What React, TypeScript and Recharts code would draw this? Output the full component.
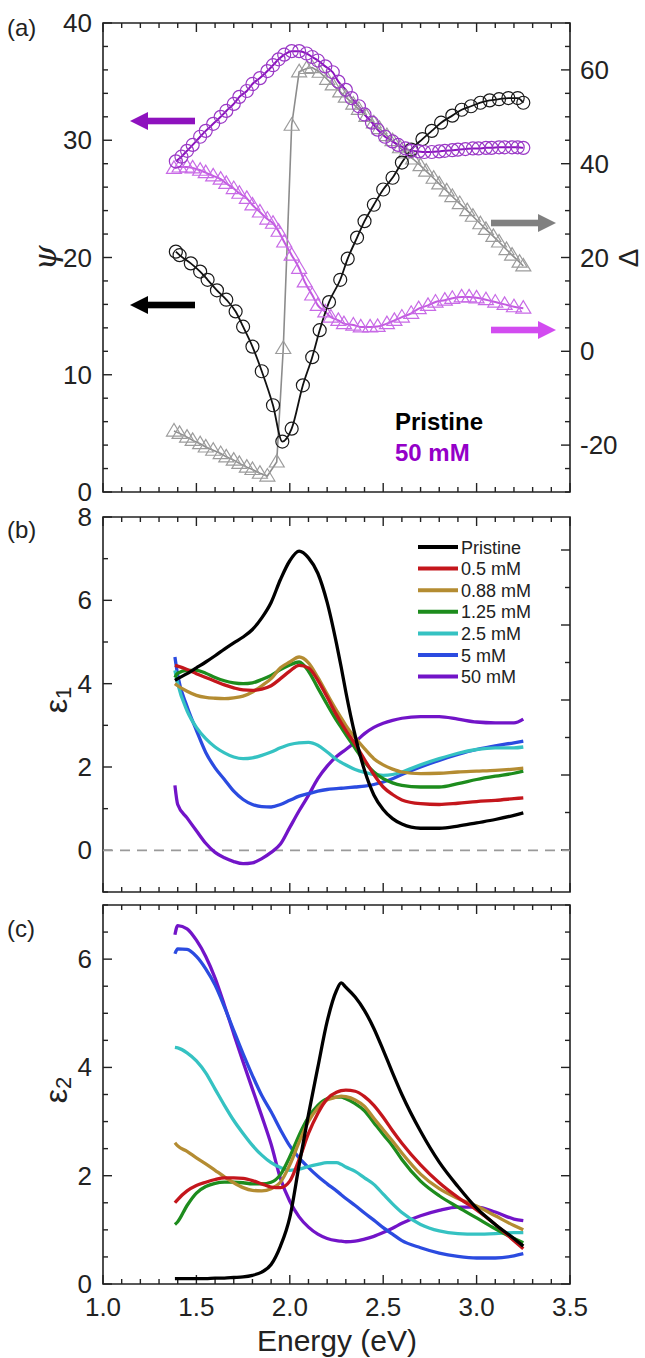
import { LineChart, Line, XAxis, YAxis, ReferenceLine, ReferenceArea } from 'recharts'

const FONT = 'Arial, "Liberation Sans", Helvetica, sans-serif'
const INK = '#222'

// tick positions
const X_TICKS = [1.0, 1.1, 1.2, 1.3, 1.4, 1.5, 1.6, 1.7, 1.8, 1.9, 2.0, 2.1, 2.2, 2.3, 2.4, 2.5, 2.6, 2.7, 2.8, 2.9, 3.0, 3.1, 3.2, 3.3, 3.4, 3.5]
const PSI_TICKS = [0, 2, 4, 6, 8, 10, 12, 14, 16, 18, 20, 22, 24, 26, 28, 30, 32, 34, 36, 38, 40]
const DELTA_TICKS = [-30, -25, -20, -15, -10, -5, 0, 5, 10, 15, 20, 25, 30, 35, 40, 45, 50, 55, 60, 65, 70]
const E1_TICKS = [-1, 0, 1, 2, 3, 4, 5, 6, 7, 8]
const E1_RIGHT_TICKS = [0, 1, 2, 3, 4, 5, 6, 7, 8]
const E2_TICKS = [0, 0.5, 1, 1.5, 2, 2.5, 3, 3.5, 4, 4.5, 5, 5.5, 6, 6.5, 7]

// (a) ellipsometry, pristine
const psiPristineE = [1.39, 1.41, 1.47, 1.52, 1.56, 1.61, 1.66, 1.71, 1.75, 1.80, 1.85, 1.91, 1.96, 2.01, 2.07, 2.12, 2.16, 2.21, 2.27, 2.31, 2.36, 2.40, 2.45, 2.50, 2.55, 2.60, 2.65, 2.71, 2.76, 2.81, 2.87, 2.92, 2.97, 3.02, 3.07, 3.12, 3.17, 3.22, 3.25]
const psiPristine = [20.5, 20.2, 19.5, 18.8, 18.1, 17.2, 16.4, 15.4, 14.1, 12.4, 10.3, 7.4, 4.3, 5.4, 9.1, 11.5, 13.8, 16.2, 18.1, 19.9, 21.7, 23.1, 24.5, 25.8, 26.8, 28.1, 29.2, 30.1, 30.8, 31.5, 32.1, 32.6, 32.9, 33.2, 33.4, 33.5, 33.6, 33.6, 33.2]

const deltaPristineE = [1.38, 1.41, 1.45, 1.48, 1.52, 1.55, 1.59, 1.63, 1.66, 1.70, 1.73, 1.77, 1.80, 1.84, 1.88, 1.93, 1.965, 2.01, 2.05, 2.09, 2.12, 2.16, 2.20, 2.23, 2.27, 2.30, 2.34, 2.37, 2.41, 2.45, 2.48, 2.52, 2.55, 2.59, 2.62, 2.66, 2.70, 2.73, 2.77, 2.80, 2.84, 2.87, 2.91, 2.95, 2.98, 3.02, 3.05, 3.09, 3.12, 3.16, 3.19, 3.23, 3.25]
const deltaPristine = [-17.0, -17.5, -18.3, -19.0, -19.7, -20.4, -21.1, -21.8, -22.5, -23.2, -23.9, -24.7, -25.2, -26.0, -26.6, -23.6, 0.6, 48.2, 59.6, 60.3, 60.5, 59.5, 58.0, 56.8, 55.3, 54.2, 52.7, 51.6, 50.1, 48.7, 47.5, 46.0, 44.9, 43.4, 42.3, 41.0, 39.6, 38.4, 36.9, 35.7, 34.2, 33.0, 31.5, 30.0, 28.8, 27.2, 26.0, 24.5, 23.3, 21.7, 20.5, 19.0, 18.2]

// (a) ellipsometry, 50 mM
const psi50E = [1.39, 1.42, 1.45, 1.48, 1.52, 1.55, 1.59, 1.63, 1.66, 1.70, 1.73, 1.77, 1.80, 1.84, 1.88, 1.91, 1.94, 1.97, 2.01, 2.05, 2.09, 2.12, 2.15, 2.19, 2.23, 2.26, 2.30, 2.33, 2.37, 2.40, 2.44, 2.47, 2.51, 2.55, 2.58, 2.62, 2.65, 2.69, 2.72, 2.76, 2.80, 2.83, 2.87, 2.90, 2.94, 2.98, 3.01, 3.05, 3.08, 3.12, 3.15, 3.19, 3.22, 3.25]
const psi50 = [28.2, 28.6, 29.1, 29.6, 30.3, 30.8, 31.4, 32.0, 32.5, 33.1, 33.7, 34.2, 34.8, 35.3, 35.9, 36.4, 36.9, 37.3, 37.6, 37.6, 37.4, 37.1, 36.8, 36.3, 35.8, 35.0, 34.3, 33.6, 32.9, 32.2, 31.5, 30.9, 30.3, 29.9, 29.6, 29.3, 29.1, 29.05, 29.0, 29.0, 29.05, 29.1, 29.15, 29.2, 29.25, 29.3, 29.3, 29.35, 29.35, 29.4, 29.4, 29.4, 29.4, 29.35]

const delta50E = [1.38, 1.41, 1.45, 1.48, 1.52, 1.55, 1.59, 1.63, 1.66, 1.70, 1.73, 1.77, 1.80, 1.84, 1.88, 1.91, 1.94, 1.97, 2.01, 2.05, 2.08, 2.12, 2.15, 2.19, 2.22, 2.26, 2.29, 2.34, 2.38, 2.43, 2.47, 2.52, 2.56, 2.60, 2.65, 2.69, 2.74, 2.78, 2.83, 2.87, 2.92, 2.96, 3.00, 3.05, 3.10, 3.15, 3.20, 3.25]
const delta50 = [39.0, 39.3, 39.3, 39.1, 38.6, 38.1, 37.4, 36.7, 35.8, 34.7, 33.7, 32.6, 31.2, 29.7, 28.2, 27.3, 25.6, 23.3, 20.5, 17.7, 14.8, 12.0, 9.8, 8.4, 7.3, 6.6, 5.9, 5.6, 5.2, 5.2, 5.3, 5.9, 6.6, 7.3, 8.1, 9.1, 9.8, 10.5, 10.9, 11.3, 11.6, 11.6, 11.4, 11.0, 10.5, 10.0, 9.5, 9.2]

// (b), (c) dielectric function
const energy = [1.385, 1.40, 1.45, 1.50, 1.55, 1.60, 1.65, 1.70, 1.75, 1.80, 1.85, 1.90, 1.95, 2.00, 2.05, 2.10, 2.15, 2.20, 2.25, 2.275, 2.30, 2.35, 2.40, 2.45, 2.50, 2.55, 2.60, 2.70, 2.80, 2.90, 3.00, 3.10, 3.20, 3.25]

const e1Pristine = [4.08, 4.12, 4.24, 4.38, 4.52, 4.67, 4.83, 4.98, 5.12, 5.3, 5.58, 5.95, 6.5, 6.95, 7.18, 7.02, 6.65, 5.95, 4.96, 4.4, 3.8, 2.75, 1.92, 1.33, 0.98, 0.76, 0.63, 0.53, 0.53, 0.58, 0.66, 0.74, 0.84, 0.9]
const e1_05 = [4.44, 4.42, 4.34, 4.24, 4.15, 4.06, 3.97, 3.9, 3.85, 3.84, 3.87, 3.95, 4.12, 4.3, 4.44, 4.38, 4.08, 3.68, 3.25, 3.06, 2.88, 2.55, 2.18, 1.82, 1.52, 1.34, 1.21, 1.12, 1.1, 1.13, 1.17, 1.2, 1.24, 1.26]
const e1_088 = [4.0, 3.95, 3.82, 3.72, 3.67, 3.65, 3.64, 3.66, 3.7, 3.8, 3.95, 4.12, 4.38, 4.52, 4.64, 4.5, 4.15, 3.75, 3.36, 3.18, 3.0, 2.7, 2.44, 2.2, 2.05, 1.95, 1.88, 1.84, 1.85, 1.88, 1.9, 1.92, 1.95, 1.97]
const e1_125 = [4.15, 4.25, 4.32, 4.32, 4.25, 4.15, 4.07, 4.02, 4.0, 4.02, 4.1, 4.2, 4.34, 4.45, 4.52, 4.3, 3.9, 3.5, 3.12, 2.95, 2.78, 2.45, 2.12, 1.88, 1.72, 1.62, 1.56, 1.52, 1.52, 1.6, 1.7, 1.78, 1.85, 1.9]
const e1_25 = [4.32, 4.0, 3.35, 2.95, 2.68, 2.48, 2.34, 2.24, 2.2, 2.22, 2.28, 2.36, 2.46, 2.54, 2.58, 2.59, 2.52, 2.36, 2.18, 2.11, 2.05, 1.94, 1.87, 1.82, 1.8, 1.82, 1.88, 2.05, 2.2, 2.33, 2.42, 2.46, 2.46, 2.48]
const e1_5 = [4.64, 4.2, 3.45, 2.88, 2.35, 1.98, 1.7, 1.42, 1.22, 1.1, 1.05, 1.04, 1.1, 1.2, 1.3, 1.36, 1.42, 1.46, 1.48, 1.49, 1.5, 1.52, 1.54, 1.58, 1.64, 1.72, 1.82, 2.0, 2.16, 2.3, 2.42, 2.51, 2.58, 2.62]
const e1_50 = [1.56, 1.1, 0.78, 0.47, 0.17, -0.05, -0.18, -0.27, -0.32, -0.3, -0.2, -0.05, 0.15, 0.55, 0.95, 1.32, 1.72, 2.02, 2.25, 2.34, 2.42, 2.6, 2.8, 2.95, 3.05, 3.12, 3.17, 3.21, 3.21, 3.15, 3.08, 3.06, 3.06, 3.15]

const e2Pristine = [0.1, 0.1, 0.1, 0.1, 0.1, 0.11, 0.11, 0.12, 0.13, 0.16, 0.22, 0.36, 0.7, 1.23, 2.2, 3.13, 4.0, 4.85, 5.42, 5.56, 5.48, 5.3, 5.05, 4.72, 4.32, 3.9, 3.5, 2.82, 2.25, 1.8, 1.4, 1.1, 0.84, 0.7]
const e2_05 = [1.5, 1.56, 1.72, 1.82, 1.88, 1.93, 1.96, 1.96, 1.95, 1.91, 1.85, 1.79, 1.78, 1.9, 2.3, 2.78, 3.15, 3.42, 3.54, 3.57, 3.58, 3.56, 3.46, 3.3, 3.08, 2.83, 2.6, 2.2, 1.87, 1.6, 1.37, 1.1, 0.8, 0.65]
const e2_088 = [2.61, 2.55, 2.45, 2.33, 2.22, 2.1, 1.98, 1.87, 1.78, 1.73, 1.72, 1.76, 1.88, 2.2, 2.62, 3.0, 3.25, 3.4, 3.45, 3.47, 3.46, 3.4, 3.28, 3.06, 2.85, 2.64, 2.42, 2.03, 1.76, 1.58, 1.44, 1.26, 1.08, 1.0]
const e2_125 = [1.1, 1.15, 1.45, 1.68, 1.8, 1.86, 1.88, 1.88, 1.87, 1.85, 1.85, 1.88, 2.02, 2.35, 2.75, 3.08, 3.3, 3.42, 3.45, 3.45, 3.42, 3.33, 3.2, 2.98, 2.76, 2.55, 2.3, 1.9, 1.63, 1.42, 1.22, 1.02, 0.84, 0.76]
const e2_25 = [4.37, 4.36, 4.27, 4.12, 3.9, 3.6, 3.3, 3.02, 2.78, 2.56, 2.38, 2.24, 2.15, 2.1, 2.12, 2.17, 2.21, 2.24, 2.24, 2.21, 2.16, 2.08, 1.96, 1.84, 1.66, 1.48, 1.32, 1.1, 0.98, 0.93, 0.92, 0.93, 0.95, 0.95]
const e2_5 = [6.1, 6.19, 6.18, 6.05, 5.82, 5.52, 5.12, 4.68, 4.25, 3.85, 3.48, 3.18, 2.85, 2.55, 2.33, 2.15, 1.99, 1.85, 1.72, 1.65, 1.58, 1.45, 1.31, 1.18, 1.04, 0.92, 0.8, 0.67, 0.57, 0.51, 0.48, 0.48, 0.52, 0.56]
const e2_50 = [6.45, 6.62, 6.56, 6.35, 6.05, 5.65, 5.15, 4.62, 4.1, 3.6, 3.1, 2.58, 1.95, 1.53, 1.24, 1.05, 0.92, 0.84, 0.8, 0.79, 0.78, 0.79, 0.83, 0.88, 0.95, 1.03, 1.12, 1.26, 1.36, 1.42, 1.42, 1.33, 1.2, 1.17]

const SAMPLES = [
  { key: 'pristine', label: 'Pristine', color: '#000000', e1: e1Pristine, e2: e2Pristine },
  { key: 'm05', label: '0.5 mM', color: '#c4161c', e1: e1_05, e2: e2_05 },
  { key: 'm088', label: '0.88 mM', color: '#b48c32', e1: e1_088, e2: e2_088 },
  { key: 'm125', label: '1.25 mM', color: '#1d8c1d', e1: e1_125, e2: e2_125 },
  { key: 'm25', label: '2.5 mM', color: '#35c2c2', e1: e1_25, e2: e2_25 },
  { key: 'm5', label: '5 mM', color: '#2b4be0', e1: e1_5, e2: e2_5 },
  { key: 'm50', label: '50 mM', color: '#7214c8', e1: e1_50, e2: e2_50 },
]
const DRAW_ORDER = ['m50', 'm5', 'm25', 'm125', 'm088', 'm05', 'pristine']

const zip = (xs: number[], ys: number[]) => xs.map((e, i) => ({ e, v: ys[i] }))

const e1Table = energy.map((e, i) => {
  const row: Record<string, number> = { e }
  SAMPLES.forEach((s) => { row[s.key] = s.e1[i] })
  return row
})
const e2Table = energy.map((e, i) => {
  const row: Record<string, number> = { e }
  SAMPLES.forEach((s) => { row[s.key] = s.e2[i] })
  return row
})

// layout: every panel shares the same left / right axis widths
const W = 645
const LEFT_W = 103
const RIGHT_W = 75
const PLOT_L = LEFT_W
const PLOT_R = W - RIGHT_W
const X_DOMAIN = [1, 3.5]
const PX_PER_X = (PLOT_R - PLOT_L) / (X_DOMAIN[1] - X_DOMAIN[0])
const MAJOR_LEN = 9
const MINOR_LEN = 5

const isMultiple = (v: number, step: number) => Math.abs(v / step - Math.round(v / step)) < 1e-6

type Side = 'bottom' | 'left' | 'right'

// axis labels only; tick marks are drawn as reference segments
function makeLabel(side: Side, axisPos: number, majorStep: number, show: boolean, digits = 0) {
  return function Label(props: any) {
    const { payload } = props
    const v = payload.value as number
    if (!show || !isMultiple(v, majorStep)) return <g />
    const c = payload.coordinate as number
    const txt = v.toFixed(digits)
    const common = { fill: INK, fontSize: 26, fontFamily: FONT, stroke: 'none' }
    if (side === 'bottom') return <text x={c} y={axisPos + 32} textAnchor="middle" {...common}>{txt}</text>
    if (side === 'left') return <text x={axisPos - 11} y={c + 9} textAnchor="end" {...common}>{txt}</text>
    return <text x={axisPos + 10} y={c + 9} textAnchor="start" {...common}>{txt}</text>
  }
}

interface YSpec { id: string; domain: number[]; ticks: number[]; major: number; labels: boolean }

// inward tick marks on all four sides of the frame
function tickMarks(top: number, bottom: number, left: YSpec, right: YSpec) {
  const pxL = (bottom - top) / (left.domain[1] - left.domain[0])
  const marks: any[] = []
  const seg = (key: string, yId: string, a: { x: number; y: number }, b: { x: number; y: number }) => (
    <ReferenceLine key={key} xAxisId="b" yAxisId={yId} segment={[a, b]} stroke={INK} strokeWidth={1.4} ifOverflow="visible" />
  )
  X_TICKS.forEach((v) => {
    const len = isMultiple(v, 0.5) ? MAJOR_LEN : MINOR_LEN
    const [y0, y1] = left.domain
    marks.push(seg(`xb${v}`, left.id, { x: v, y: y0 }, { x: v, y: y0 + len / pxL }))
    marks.push(seg(`xt${v}`, left.id, { x: v, y: y1 }, { x: v, y: y1 - len / pxL }))
  })
  left.ticks.forEach((v) => {
    const len = isMultiple(v, left.major) ? MAJOR_LEN : MINOR_LEN
    marks.push(seg(`yl${v}`, left.id, { x: X_DOMAIN[0], y: v }, { x: X_DOMAIN[0] + len / PX_PER_X, y: v }))
  })
  right.ticks.forEach((v) => {
    const len = isMultiple(v, right.major) ? MAJOR_LEN : MINOR_LEN
    marks.push(seg(`yr${v}`, right.id, { x: X_DOMAIN[1], y: v }, { x: X_DOMAIN[1] - len / PX_PER_X, y: v }))
  })
  return marks
}

function axes(bottom: number, xLabels: boolean, left: YSpec, right: YSpec) {
  return [
    <XAxis key="xb" xAxisId="b" type="number" dataKey="e" domain={X_DOMAIN} ticks={X_TICKS} height={1} interval={0} tickLine={false} axisLine={false} allowDataOverflow tick={makeLabel('bottom', bottom, 0.5, xLabels, 1)} />,
    <YAxis key="yl" yAxisId={left.id} type="number" domain={left.domain} ticks={left.ticks} width={LEFT_W} interval={0} tickLine={false} axisLine={false} allowDataOverflow tick={makeLabel('left', PLOT_L, left.major, left.labels)} />,
    <YAxis key="yr" yAxisId={right.id} orientation="right" type="number" domain={right.domain} ticks={right.ticks} width={RIGHT_W} interval={0} tickLine={false} axisLine={false} allowDataOverflow tick={makeLabel('right', PLOT_R, right.major, right.labels)} />,
  ]
}

const chartStyle = { overflow: 'visible' as const }

function triDot(color: string) {
  return function Tri(props: any) {
    const { cx, cy, index } = props
    if (cx == null || cy == null) return <g key={index} />
    return (
      <polygon
        key={index}
        points={`${cx},${cy - 7.5} ${cx - 7.5},${cy + 5} ${cx + 7.5},${cy + 5}`}
        fill="none"
        stroke={color}
        strokeWidth={1.2}
      />
    )
  }
}

function Arrow({ x, y, dir, color }: { x: number; y: number; dir: 'left' | 'right'; color: string }) {
  // x is the tip
  const s = dir === 'left' ? 1 : -1
  const shaftEnd = x + s * 65
  const head = x + s * 18
  return (
    <g>
      <rect x={Math.min(head, shaftEnd)} y={y - 3.3} width={Math.abs(shaftEnd - head)} height={6.6} fill={color} />
      <polygon points={`${x},${y} ${head},${y - 9} ${head},${y + 9}`} fill={color} />
    </g>
  )
}

function frame(spec: YSpec) {
  return <ReferenceArea key="frame" xAxisId="b" yAxisId={spec.id} x1={X_DOMAIN[0]} x2={X_DOMAIN[1]} y1={spec.domain[0]} y2={spec.domain[1]} fill="none" stroke={INK} strokeWidth={1.6} ifOverflow="visible" />
}

const PSI_AXIS: YSpec = { id: 'psi', domain: [0, 40], ticks: PSI_TICKS, major: 10, labels: true }
const DELTA_AXIS: YSpec = { id: 'delta', domain: [-30, 70], ticks: DELTA_TICKS, major: 20, labels: true }
const E1_AXIS: YSpec = { id: 'l', domain: [-1, 8], ticks: E1_TICKS, major: 2, labels: true }
const E1_RIGHT_AXIS: YSpec = { id: 'r', domain: [-1.12, 8.88], ticks: E1_RIGHT_TICKS, major: 2, labels: false }
const E2_AXIS: YSpec = { id: 'l', domain: [0, 7], ticks: E2_TICKS, major: 2, labels: true }
const E2_RIGHT_AXIS: YSpec = { id: 'r', domain: [0, 7], ticks: E2_TICKS, major: 2, labels: false }

function PanelA() {
  // plot spans y 23..492
  return (
    <LineChart width={W} height={520} style={chartStyle} margin={{ top: 23, right: 0, bottom: 27, left: 0 }}>
      {axes(492, false, PSI_AXIS, DELTA_AXIS)}
      {frame(PSI_AXIS)}
      {tickMarks(23, 492, PSI_AXIS, DELTA_AXIS)}
      <Line xAxisId="b" yAxisId="delta" data={zip(deltaPristineE, deltaPristine)} dataKey="v" type="linear" stroke="#8c8c8c" strokeWidth={1.6} dot={triDot('#9c9c9c')} activeDot={false} isAnimationActive={false} />
      <Line xAxisId="b" yAxisId="delta" data={zip(delta50E, delta50)} dataKey="v" type="monotone" stroke="#c35ae0" strokeWidth={2} dot={triDot('#c86ae6')} activeDot={false} isAnimationActive={false} />
      <Line xAxisId="b" yAxisId="psi" data={zip(psiPristineE, psiPristine)} dataKey="v" type="monotone" stroke="#111" strokeWidth={1.8} dot={{ r: 6.5, fill: 'none', stroke: '#1a1a1a', strokeWidth: 1.2 }} activeDot={false} isAnimationActive={false} />
      <Line xAxisId="b" yAxisId="psi" data={zip(psi50E, psi50)} dataKey="v" type="monotone" stroke="#8a12bd" strokeWidth={2} dot={{ r: 6.5, fill: 'none', stroke: '#9a38c6', strokeWidth: 1.2 }} activeDot={false} isAnimationActive={false} />
    </LineChart>
  )
}

function PanelB() {
  // plot spans y 17..392 (page 517..892)
  return (
    <LineChart width={W} height={420} data={e1Table} style={chartStyle} margin={{ top: 17, right: 0, bottom: 27, left: 0 }}>
      {axes(392, false, E1_AXIS, E1_RIGHT_AXIS)}
      {frame(E1_AXIS)}
      {tickMarks(17, 392, E1_AXIS, E1_RIGHT_AXIS)}
      <ReferenceLine xAxisId="b" yAxisId="l" y={0} stroke="#9a9a9a" strokeWidth={1.8} strokeDasharray="10 7" />
      {DRAW_ORDER.map((k) => {
        const s = SAMPLES.find((x) => x.key === k)!
        return <Line key={k} xAxisId="b" yAxisId="l" dataKey={k} type="monotone" stroke={s.color} strokeWidth={3.3} dot={false} activeDot={false} isAnimationActive={false} />
      })}
    </LineChart>
  )
}

function PanelC() {
  // plot spans y 10..389 (page 905..1284)
  return (
    <LineChart width={W} height={463} data={e2Table} style={chartStyle} margin={{ top: 10, right: 0, bottom: 73, left: 0 }}>
      {axes(389, true, E2_AXIS, E2_RIGHT_AXIS)}
      {frame(E2_AXIS)}
      {tickMarks(10, 389, E2_AXIS, E2_RIGHT_AXIS)}
      {DRAW_ORDER.map((k) => {
        const s = SAMPLES.find((x) => x.key === k)!
        return <Line key={k} xAxisId="b" yAxisId="l" dataKey={k} type="monotone" stroke={s.color} strokeWidth={3.3} dot={false} activeDot={false} isAnimationActive={false} />
      })}
    </LineChart>
  )
}

export default function App() {
  const legendTop = 547
  return (
    <div style={{ position: 'absolute', left: 0, top: 0, width: W, height: 1358, background: '#fff', fontFamily: FONT }}>
      <div style={{ position: 'absolute', left: 0, top: 0 }}><PanelA /></div>
      <div style={{ position: 'absolute', left: 0, top: 500 }}><PanelB /></div>
      <div style={{ position: 'absolute', left: 0, top: 895 }}><PanelC /></div>
      <svg width={W} height={1358} style={{ position: 'absolute', left: 0, top: 0, pointerEvents: 'none' }} fontFamily={FONT}>
        {/* panel letters */}
        <text x={7} y={36} fontSize={24} fill={INK}>(a)</text>
        <text x={7} y={538} fontSize={24} fill={INK}>(b)</text>
        <text x={7} y={937} fontSize={24} fill={INK}>(c)</text>

        {/* axis titles */}
        <text x={45} y={258} transform="rotate(-90 45 258)" textAnchor="middle" dominantBaseline="central" fontSize={32} fontStyle="italic" fontFamily='"DejaVu Serif", "Liberation Serif", serif' fill={INK}>ψ</text>
        <text x={628} y={258} transform="rotate(-90 628 258)" textAnchor="middle" dominantBaseline="central" fontSize={28} fill={INK}>Δ</text>
        <text x={56} y={700} transform="rotate(-90 56 700)" textAnchor="middle" dominantBaseline="central" fontSize={32} fill={INK}>ε<tspan fontSize={22} dy={7}>1</tspan></text>
        <text x={56} y={1090} transform="rotate(-90 56 1090)" textAnchor="middle" dominantBaseline="central" fontSize={32} fill={INK}>ε<tspan fontSize={22} dy={7}>2</tspan></text>
        <text x={337} y={1351} textAnchor="middle" fontSize={30} fill={INK}>Energy (eV)</text>

        {/* (a) arrows showing which axis each pair uses */}
        <Arrow x={130} y={121} dir="left" color="#8e12be" />
        <Arrow x={130} y={305} dir="left" color="#000" />
        <Arrow x={556} y={223} dir="right" color="#808080" />
        <Arrow x={556} y={330} dir="right" color="#d24cf0" />
        <text x={395} y={430} fontSize={24} fontWeight="bold" fill="#000">Pristine</text>
        <text x={395} y={461} fontSize={24} fontWeight="bold" fill="#9400c8">50 mM</text>

        {/* (b) legend */}
        {SAMPLES.map((s, i) => (
          <g key={s.key}>
            <line x1={418} x2={458} y1={legendTop + i * 21.6} y2={legendTop + i * 21.6} stroke={s.color} strokeWidth={4} />
            <text x={461} y={legendTop + i * 21.6 + 6.5} fontSize={18} fill={INK}>{s.label}</text>
          </g>
        ))}
      </svg>
    </div>
  )
}
